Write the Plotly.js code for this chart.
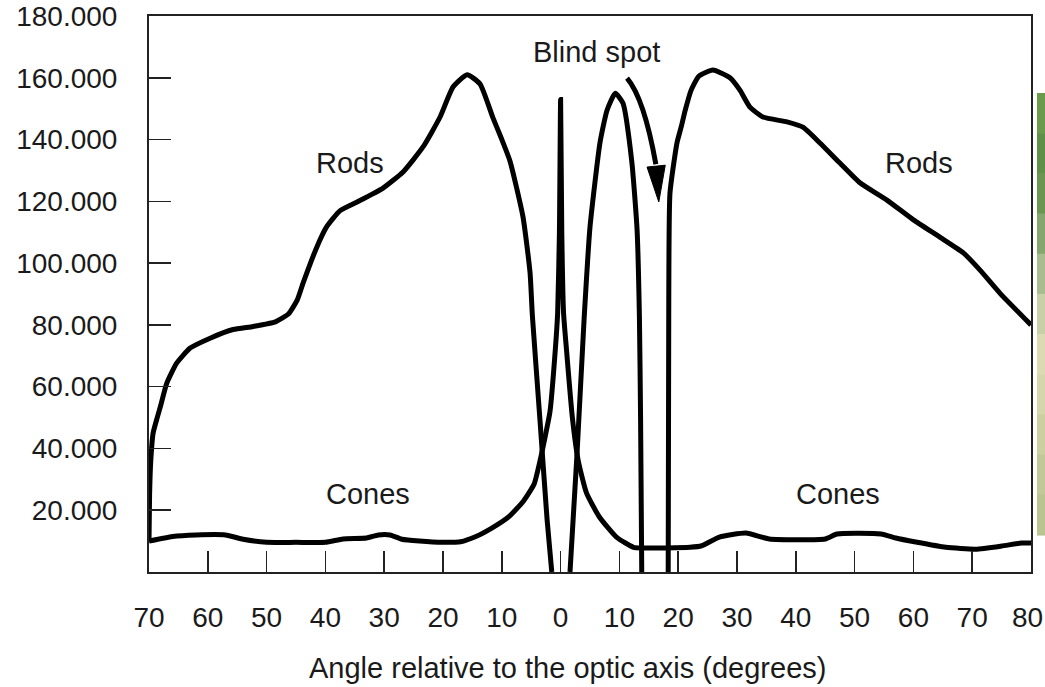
<!DOCTYPE html>
<html>
<head>
<meta charset="utf-8">
<script src="https://cdn.plot.ly/plotly-3.0.1.min.js"></script>
<style>html,body{margin:0;padding:0;background:#fff;}#chart{width:1045px;height:687px;}</style>
</head>
<body>
<div id="chart"></div>
<script>
// Angle relative to the optic axis (degrees; negative = temporal side)
var rodsAngle = [-70, -69.9, -69.7, -69.3, -68.6, -68, -67, -65.3, -63, -59.6, -55.7, -52.3, -48.5, -46.3, -44.8, -43.8, -41.5, -39.8, -37.5, -34.6, -30.2, -26.8, -23.4, -20.5, -18.3, -15.9, -13.7, -11.5, -10.2, -8.6, -6.4, -5.2, -4.8, -3.5, -2.3, -1.5, null, 1.6, 2.8, 4.0, 5.0, 6.7, 7.9, 9.3, 10.6, 12.1, 13.0, 13.4, 13.6, 13.8, null, 18.3, 18.4, 18.6, 19.8, 20.5, 21.2, 22.2, 23.5, 25.9, 28.8, 30.5, 32.2, 34.4, 38.5, 41.2, 44.1, 47.5, 50.9, 55.5, 60, 64.5, 68.5, 71.3, 74.7, 80];
var rodsDensity = [10000, 25000, 36000, 45000, 50000, 54000, 61000, 67600, 72500, 75700, 78500, 79500, 81000, 83500, 88000, 93500, 105000, 111700, 117000, 119800, 124300, 129500, 137600, 147300, 157000, 161000, 158000, 147000, 141000, 133000, 115000, 97000, 83000, 49000, 17000, 0, null, 0, 38500, 82000, 111700, 139000, 149500, 155000, 151800, 133000, 111000, 83000, 50000, 0, null, 0, 90000, 122700, 139000, 144000, 149500, 156000, 160500, 162500, 160000, 156000, 150500, 147300, 145700, 144000, 138900, 132400, 126000, 120400, 114000, 108400, 103300, 97800, 90300, 80000];

var conesAngle = [-70, -66, -62, -57, -54, -50, -45, -40, -37, -33, -31, -29, -27, -24, -20, -17, -14.5, -11.7, -8.8, -6.3, -4.5, -3.5, -2.5, -1.8, -0.9, -0.5, -0.2, 0, 0.2, 0.5, 1, 2, 3, 4.4, 6.6, 9.5, 12.4, 14, 18, 22, 24, 27, 31.5, 35.5, 45, 47, 54.5, 57, 60.4, 65.5, 70.6, 75, 78.4, 80];
var conesDensity = [10000, 11500, 12000, 12000, 10600, 9600, 9600, 9600, 10700, 11000, 12000, 12000, 10600, 10000, 9600, 9800, 11400, 14200, 17900, 23000, 28500, 36000, 45000, 52000, 72000, 84000, 110000, 153000, 110000, 84000, 72000, 50000, 36000, 25600, 17800, 11300, 8000, 7800, 7800, 8000, 8500, 11300, 12600, 10700, 10700, 12300, 12300, 11000, 9700, 8000, 7400, 8400, 9400, 9400];

var xTickVals = [-70, -60, -50, -40, -30, -20, -10, 0, 10, 20, 30, 40, 50, 60, 70, 80];
var xTickText = ["70", "60", "50", "40", "30", "20", "10", "0", "10", "20", "30", "40", "50", "60", "70", "80"];
var yTickVals = [20000, 40000, 60000, 80000, 100000, 120000, 140000, 160000, 180000];
var yTickText = ["20.000", "40.000", "60.000", "80.000", "100.000", "120.000", "140.000", "160.000", "180.000"];

var FONT = "Liberation Sans, Arial, Helvetica, sans-serif";
var INK = "#1a1a1a";

var traces = [
  {x: rodsAngle, y: rodsDensity, type: "scatter", mode: "lines", name: "Rods",
   line: {color: "#000", width: 5, shape: "spline", smoothing: 0.5}, connectgaps: false, hoverinfo: "x+y"},
  {x: conesAngle, y: conesDensity, type: "scatter", mode: "lines", name: "Cones",
   line: {color: "#000", width: 5, shape: "spline", smoothing: 0.5}, hoverinfo: "x+y"}
];

// decorative green strip at the right edge (gradient approximated by bands)
var stripColors = ["#6a9a4c", "#5f9048", "#6a9652", "#86a670", "#a9bc90", "#c9cfa6", "#dcdab2", "#d6d6ac", "#ccd0a0", "#c2c898", "#b9c490"];
var shapes = [];
var stripTop = 0.8615, stripBot = 0.0665;
for (var i = 0; i < stripColors.length; i++) {
  var h = (stripTop - stripBot) / stripColors.length;
  shapes.push({type: "rect", xref: "paper", yref: "paper",
    x0: 1.0068, x1: 1.02, y0: stripTop - (i + 1) * h - 0.001, y1: stripTop - i * h,
    fillcolor: stripColors[i], line: {width: 0}, layer: "below"});
}
// curved arrow from the "Blind spot" label
shapes.push({type: "path", xref: "x", yref: "y",
  path: "M 11.3,159900 Q 14.2,153400 16.2,132000",
  line: {color: "#000", width: 5}});
shapes.push({type: "path", xref: "x", yref: "y",
  path: "M 14.7,131100 L 17.8,131700 L 16.7,119800 Z",
  fillcolor: "#000", line: {color: "#000", width: 1}});

var annFont = {family: FONT, size: 29, color: INK};
function note(t, x, y, f) {
  return {text: t, x: x, y: y, xref: "paper", yref: "paper", xanchor: "center", yanchor: "middle",
    showarrow: false, font: f || annFont};
}
// the last x tick label sits at the window edge; draw it as a note nudged inward
var lastTickIdx = xTickText.length - 1;
var lastTickLabel = xTickText[lastTickIdx];
var axisTickText = xTickText.slice(0, lastTickIdx).concat([""]);

var annotations = [
  note("Rods", 0.228, 0.736),
  note("Rods", 0.873, 0.736),
  note("Cones", 0.248, 0.140),
  note("Cones", 0.781, 0.140),
  note("Blind spot", 0.507, 0.935),
  note("Angle relative to the optic axis (degrees)", 0.475, -0.173),
  note(lastTickLabel, 0.9955, -0.081, {family: FONT, size: 28, color: INK})
];

var layout = {
  width: 1045, height: 687,
  margin: {l: 149, r: 14, t: 16, b: 115},
  paper_bgcolor: "#fff", plot_bgcolor: "#fff",
  showlegend: false,
  font: {family: FONT, size: 28, color: INK},
  xaxis: {range: [-70, 80], tickvals: xTickVals, ticktext: axisTickText,
    ticks: "inside", ticklen: 21, tickwidth: 1.5, tickcolor: "#222",
    showline: true, linewidth: 2, linecolor: "#222", mirror: true,
    showgrid: false, zeroline: false, ticklabelstandoff: 19,
    tickfont: {family: FONT, size: 28, color: INK}},
  yaxis: {range: [0, 180000], tickvals: yTickVals, ticktext: yTickText,
    ticks: "inside", ticklen: 22, tickwidth: 1.5, tickcolor: "#222",
    showline: true, linewidth: 2, linecolor: "#222", mirror: true,
    showgrid: false, zeroline: false, ticklabelstandoff: 24,
    tickfont: {family: FONT, size: 28, color: INK}},
  shapes: shapes,
  annotations: annotations
};

Plotly.newPlot("chart", traces, layout, {displayModeBar: false, staticPlot: true});
</script>
</body>
</html>
